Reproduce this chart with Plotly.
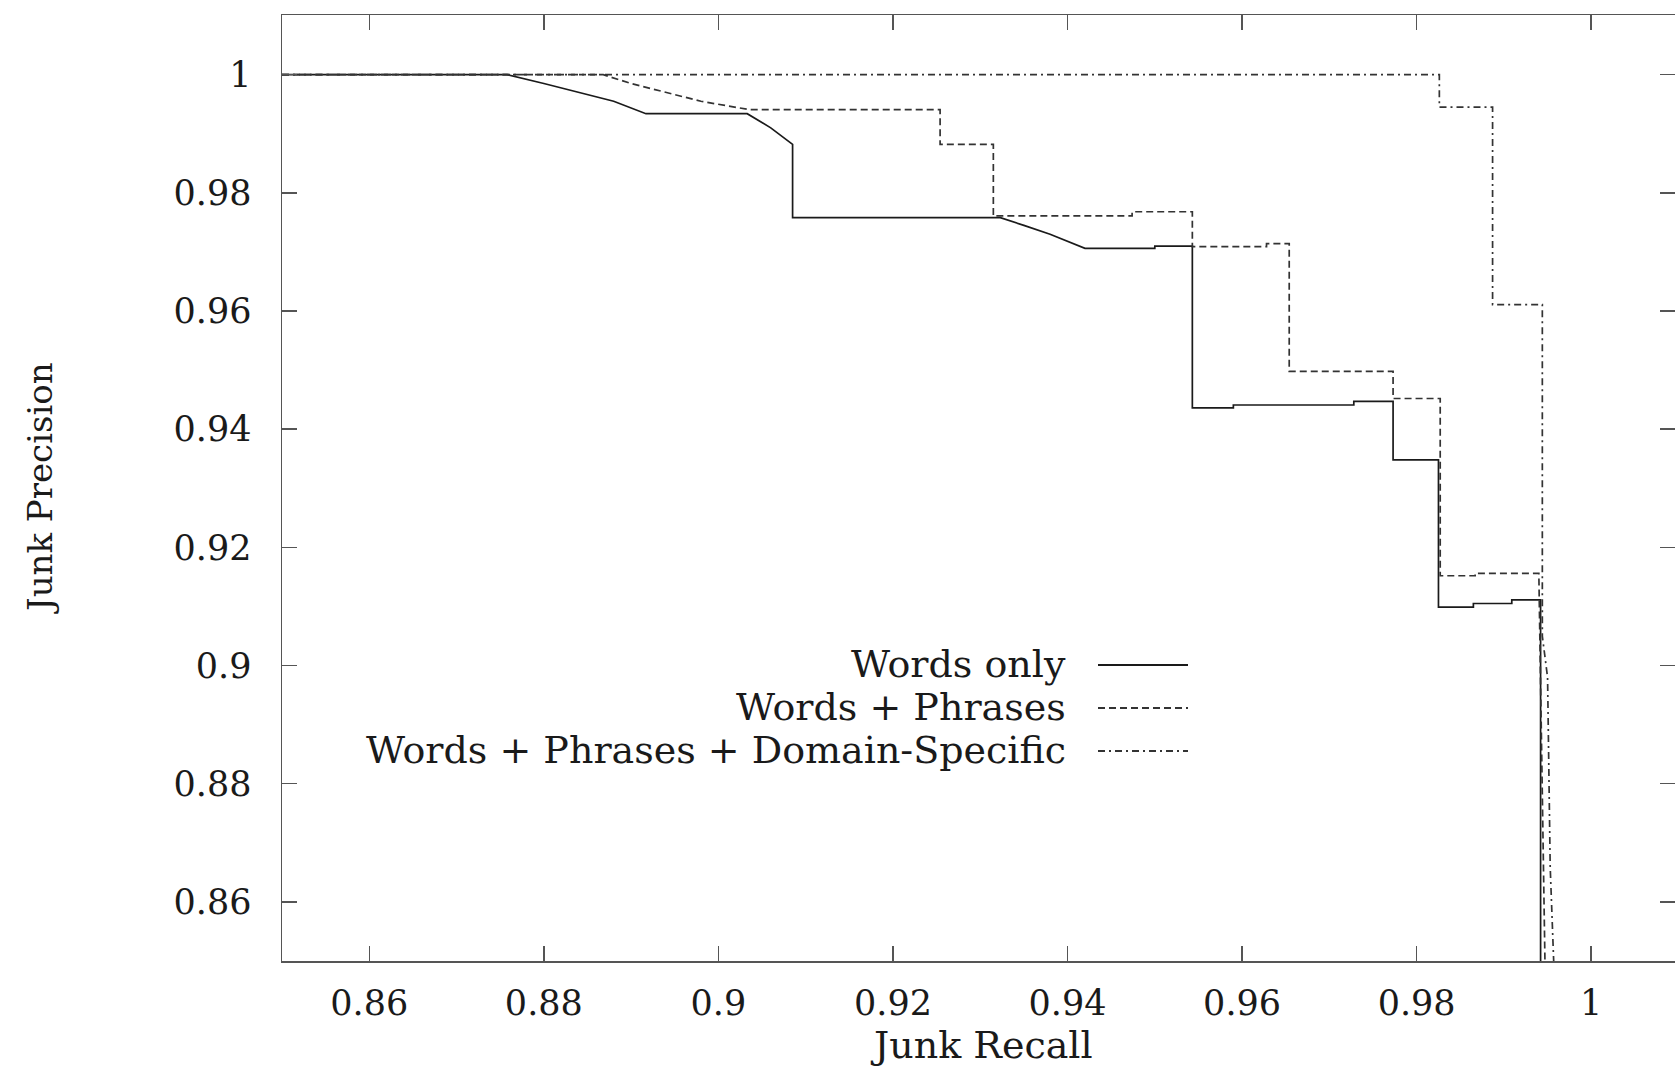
import plotly.graph_objects as go

# ---- data ----
words_x = [0.85, 0.8758, 0.880, 0.884, 0.888, 0.8917, 0.9033, 0.906, 0.9085, 0.9085,
           0.9323, 0.935, 0.938, 0.942, 0.950, 0.950, 0.9543, 0.9543, 0.959, 0.959,
           0.9728, 0.9728, 0.9773, 0.9773, 0.9825, 0.9825, 0.9865, 0.9865, 0.9909,
           0.9909, 0.9942, 0.9942]
words_y = [1.0, 1.0, 0.9985, 0.997, 0.9955, 0.9934, 0.9934, 0.991, 0.9882, 0.9758,
           0.9758, 0.9745, 0.973, 0.9706, 0.9706, 0.9710, 0.9710, 0.9436, 0.9436, 0.9441,
           0.9441, 0.9447, 0.9447, 0.9348, 0.9348, 0.9099, 0.9099, 0.9105, 0.9105,
           0.9111, 0.9111, 0.85]

phrases_x = [0.85, 0.8868, 0.890, 0.894, 0.898, 0.9035, 0.9254, 0.9254, 0.9315, 0.9315,
             0.9474, 0.9474, 0.9543, 0.9543, 0.9628, 0.9628, 0.9654, 0.9654, 0.9773,
             0.9773, 0.9827, 0.9827, 0.9867, 0.9867, 0.9940, 0.9947]
phrases_y = [1.0, 1.0, 0.9985, 0.997, 0.9955, 0.9941, 0.9941, 0.9882, 0.9882, 0.9761,
             0.9761, 0.9768, 0.9768, 0.9709, 0.9709, 0.9714, 0.9714, 0.9498, 0.9498,
             0.9452, 0.9452, 0.9152, 0.9152, 0.9156, 0.9156, 0.85]

domain_x = [0.85, 0.9826, 0.9826, 0.9887, 0.9887, 0.9944, 0.9944, 0.9950, 0.9953, 0.9957]
domain_y = [1.0, 1.0, 0.9945, 0.9945, 0.9611, 0.9611, 0.905, 0.898, 0.866, 0.85]

series_names = ["Words only", "Words + Phrases", "Words + Phrases + Domain-Specific"]

x_tickvals = [0.86, 0.88, 0.90, 0.92, 0.94, 0.96, 0.98, 1.00]
x_ticktext = ["0.86", "0.88", "0.9", "0.92", "0.94", "0.96", "0.98", "1"]
y_tickvals = [0.86, 0.88, 0.90, 0.92, 0.94, 0.96, 0.98, 1.00]
y_ticktext = ["0.86", "0.88", "0.9", "0.92", "0.94", "0.96", "0.98", "1"]

# ---- layout geometry (body margin removed via post_script) ----
W, H = 1675, 1068
PLOT_L, PLOT_R, PLOT_T, PLOT_B = 282, 1675, 15, 961
L, T = PLOT_L, PLOT_T
R, B = W - PLOT_R, H - PLOT_B
PW, PH = PLOT_R - PLOT_L, PLOT_B - PLOT_T

def px(X):
    return (X - PLOT_L) / PW

def py(Y):
    return (PLOT_B - Y) / PH

FONT = "DejaVu Serif, Liberation Serif, serif"
FS_TICK = 35
FS_KEY = 38
FS_XT = 38
FS_YT = 34
INK = "#1a1a1a"
FRAME = "#555555"

dashes = ["solid", "7px,4px", "7px,4px,2px,4px"]
colors = ["#1a1a1a", "#333333", "#333333"]

X_RANGE = [0.85, 1.0096]
Y_RANGE = [0.85, 1.0101]

fig = go.Figure()
fig.add_trace(go.Scatter(x=words_x, y=words_y, mode="lines", name=series_names[0],
                         line=dict(color=colors[0], width=1.7, dash=dashes[0]),
                         showlegend=False))
fig.add_trace(go.Scatter(x=phrases_x, y=phrases_y, mode="lines", name=series_names[1],
                         line=dict(color=colors[1], width=1.7, dash=dashes[1]),
                         showlegend=False))
# third series drawn on the (identically ranged) right-hand y axis
fig.add_trace(go.Scatter(x=domain_x, y=domain_y, mode="lines", name=series_names[2],
                         line=dict(color=colors[2], width=1.7, dash=dashes[2]),
                         showlegend=False, yaxis="y2"))

# gnuplot-style key: text right-aligned, sample line to the right
key_rows_Y = [665, 708, 751]
for name, Y, d, c in zip(series_names, key_rows_Y, dashes, colors):
    fig.add_annotation(x=px(1068), y=py(Y - 1), xref="paper", yref="paper",
                       text=name, showarrow=False, xanchor="right", yanchor="middle",
                       font=dict(family=FONT, size=FS_KEY, color=INK))
    fig.add_shape(type="line", xref="paper", yref="paper",
                  x0=px(1098), x1=px(1188), y0=py(Y), y1=py(Y),
                  line=dict(color=c, width=1.8, dash=d))

# axis titles
fig.add_annotation(x=px(981), y=py(1045), xref="paper", yref="paper",
                   text="Junk Recall", showarrow=False, xanchor="center", yanchor="middle",
                   font=dict(family=FONT, size=FS_XT, color=INK))
fig.add_annotation(x=px(40), y=py(488), xref="paper", yref="paper",
                   text="Junk Precision", showarrow=False, textangle=-90,
                   xanchor="center", yanchor="middle",
                   font=dict(family=FONT, size=FS_YT, color=INK))

tick_common = dict(showgrid=False, zeroline=False, ticks="inside", ticklen=15,
                   tickwidth=1.5, tickcolor=FRAME,
                   tickfont=dict(family=FONT, size=FS_TICK, color=INK))

fig.update_layout(
    xaxis=dict(range=X_RANGE, tickvals=x_tickvals, ticktext=x_ticktext,
               ticklabelstandoff=10, showline=True, linecolor=FRAME, linewidth=1.5,
               mirror="ticks", **tick_common),
    yaxis=dict(range=Y_RANGE, tickvals=y_tickvals, ticktext=y_ticktext,
               ticklabelstandoff=22, showline=True, linecolor=FRAME, linewidth=1.5,
               mirror=False, **tick_common),
    # right-hand ticks only (the right frame edge lies just outside the picture)
    yaxis2=dict(range=Y_RANGE, tickvals=y_tickvals, overlaying="y", side="right",
                anchor="x", showline=False, showticklabels=False, **tick_common),
)

fig.update_layout(width=W, height=H, autosize=False,
                  margin=dict(l=L, r=R, t=T, b=B, pad=0),
                  paper_bgcolor="white", plot_bgcolor="white",
                  showlegend=False, hovermode=False)

fig.write_html("out.html",
               config={"displayModeBar": False, "staticPlot": True},
               post_script="document.body.style.margin='0';"
                           "document.body.style.overflow='hidden';")
